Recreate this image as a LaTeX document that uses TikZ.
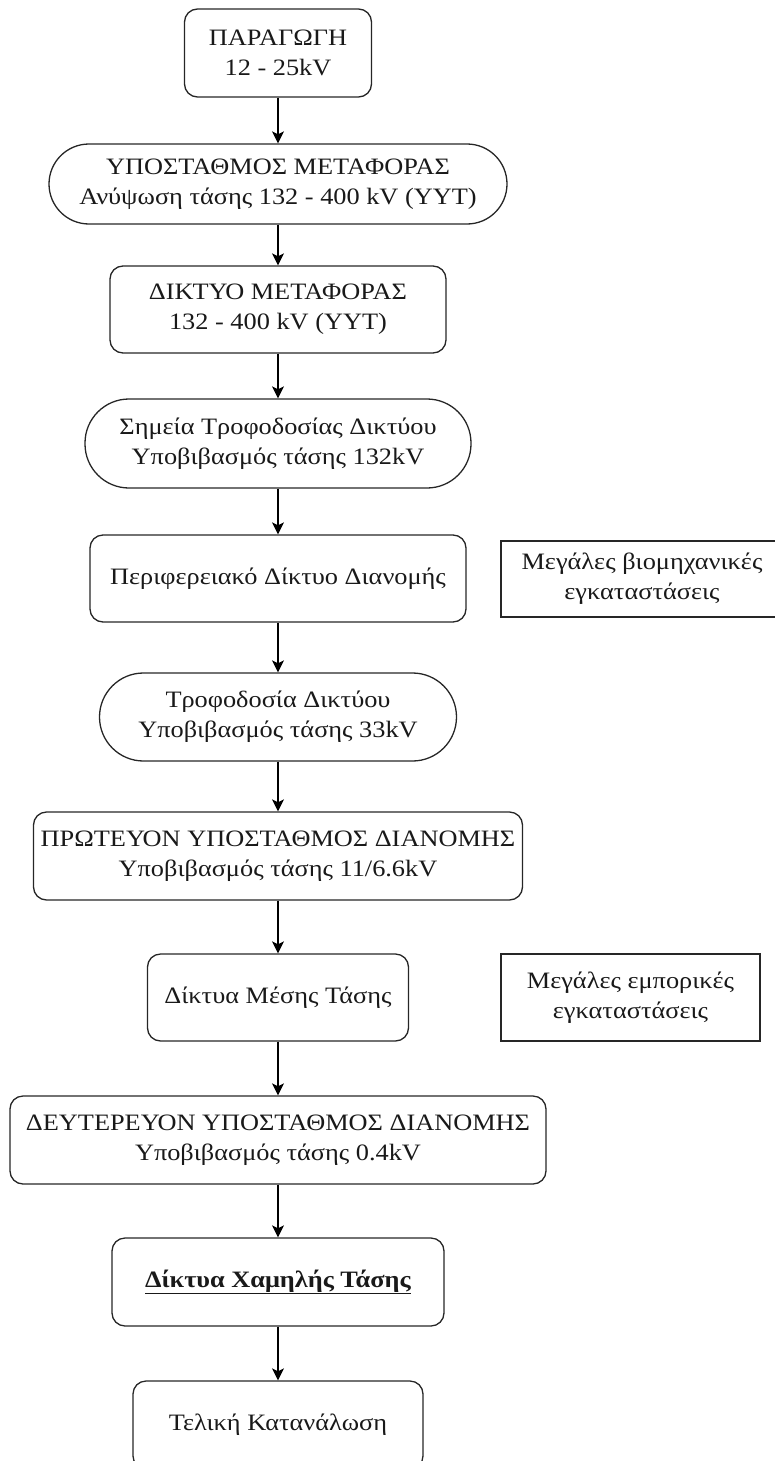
\documentclass[tikz,border=0pt]{standalone}
\usepackage{fontspec}
\setmainfont{Liberation Serif}[FakeStretch=1.12]
\usetikzlibrary{arrows.meta}
\tikzset{
  box/.style={draw=black!85, line width=1.3pt, rounded corners=13pt, inner sep=0pt,
    align=center, font=\fontsize{23.5}{30}\selectfont, text=black!90},
  term/.style={box, rounded corners=#1},
  side/.style={draw=black!85, line width=1.3pt, inner sep=0pt, align=center,
    font=\fontsize{23.5}{30}\selectfont, text=black!90},
  flow/.style={draw=black, line width=1.3pt, -{Stealth[length=12pt,width=12pt,inset=3pt]}}
}
\begin{document}
\begin{tikzpicture}[x=1pt,y=-1pt]
\useasboundingbox (0,0) rectangle (774,1461);
\node[box, minimum width=187pt, minimum height=88pt] (p1) at (278,53) {ΠΑΡΑΓΩΓΗ\\12 - 25kV};
\node[term=40pt, minimum width=458pt, minimum height=80pt] (p2) at (278,184) {ΥΠΟΣΤΑΘΜΟΣ ΜΕΤΑΦΟΡΑΣ\\Ανύψωση τάσης 132 - 400 kV (ΥΥΤ)};
\node[box, minimum width=336pt, minimum height=87pt] (p3) at (278,309.5) {ΔΙΚΤΥΟ ΜΕΤΑΦΟΡΑΣ\\132 - 400 kV (ΥΥΤ)};
\node[term=44pt, minimum width=386pt, minimum height=89pt] (p4) at (278,443.5) {Σημεία Τροφοδοσίας Δικτύου\\Υποβιβασμός τάσης 132kV};
\node[box, minimum width=376pt, minimum height=87pt] (p5) at (278,578.5) {Περιφερειακό Δίκτυο Διανομής};
\node[side, minimum width=282pt, minimum height=76pt] (b1) at (642,579) {Μεγάλες βιομηχανικές\\εγκαταστάσεις};
\node[term=44pt, minimum width=357pt, minimum height=88pt] (p6) at (278,717) {Τροφοδοσία Δικτύου\\Υποβιβασμός τάσης 33kV};
\node[box, minimum width=489pt, minimum height=88pt] (p7) at (278,856) {ΠΡΩΤΕΥΟΝ ΥΠΟΣΤΑΘΜΟΣ ΔΙΑΝΟΜΗΣ\\Υποβιβασμός τάσης 11/6.6kV};
\node[box, minimum width=261pt, minimum height=87pt] (p8) at (278,997.5) {Δίκτυα Μέσης Τάσης};
\node[side, minimum width=259pt, minimum height=87pt] (b2) at (630.5,997.5) {Μεγάλες εμπορικές\\εγκαταστάσεις};
\node[box, minimum width=536pt, minimum height=88pt] (p9) at (278,1140) {ΔΕΥΤΕΡΕΥΟΝ ΥΠΟΣΤΑΘΜΟΣ ΔΙΑΝΟΜΗΣ\\Υποβιβασμός τάσης 0.4kV};
\node[box, minimum width=332pt, minimum height=88pt] (p10) at (278,1282) {\underline{\textbf{Δίκτυα Χαμηλής Τάσης}}};
\node[box, minimum width=290pt, minimum height=88pt] (p11) at (278,1425) {Τελική Κατανάλωση};
\foreach \a/\b in {p1/p2,p2/p3,p3/p4,p4/p5,p5/p6,p6/p7,p7/p8,p8/p9,p9/p10,p10/p11}
  \draw[flow] (\a.south) -- (\b.north);
\end{tikzpicture}
\end{document}
